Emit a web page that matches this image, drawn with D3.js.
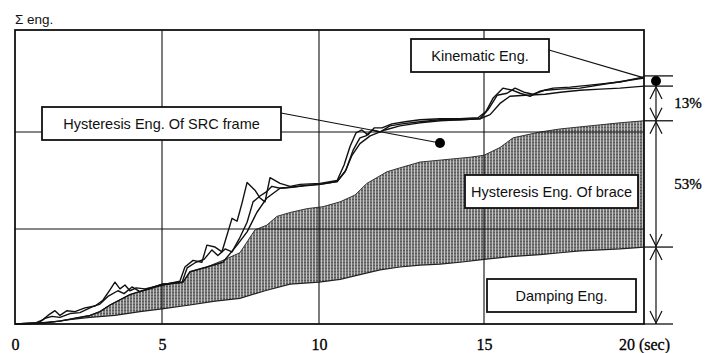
<!DOCTYPE html>
<html><head><meta charset="utf-8">
<script src="https://cdn.jsdelivr.net/npm/d3@7/dist/d3.min.js"></script>
<style>body{margin:0;background:#fff}</style>
</head><body><svg id="c" width="715" height="353"></svg>
<script>
// ---- data (time in sec, energy in arbitrary units) ----
const xTicks=[0,5,10,15,20];
const xTickLabels=["0","5","10","15","20 (sec)"];
const yGrid=[0,100,200,300];
const damping=[[0,0],[0.51,0],[1.02,1],[1.70,4],[2.55,7],[3.40,9],[4.25,13],[5.00,16],[5.89,20],[6.69,24],[7.48,27],[8.28,35],[9.08,42],[10,44],[10.64,47],[11.24,52],[11.85,57],[12.45,60],[13.06,62],[13.67,63],[14.27,65],[15,68],[15.81,71],[16.75,73],[17.38,75],[18,77],[18.63,78],[19.25,79],[20,81]];
const braceTop=[[0,0],[0.85,1],[1.53,3],[2.04,6],[2.55,9],[2.89,13],[3.23,20],[3.91,31],[4.42,36],[5,42],[5.67,44],[5.89,55],[6.43,60],[6.94,67],[7.48,75],[7.74,88],[7.96,99],[8.34,104],[8.66,113],[9.08,117],[9.62,121],[10.12,123],[10.64,128],[11.09,135],[11.45,147],[12.06,159],[12.45,163],[13.06,169],[13.67,171],[14.58,174],[15,176],[15.5,184],[15.91,194],[16.75,200],[17.38,203],[18,205],[18.63,207],[19.25,209],[20,211]];
const frameTop=[[0,0],[0.85,1],[1.53,3],[2.04,6],[2.55,9],[2.89,13],[3.23,20],[3.91,31],[4.42,36],[5,42],[5.67,44],[5.89,55],[6.43,60],[6.94,65],[7.39,83],[7.71,97],[8.02,117],[8.34,132],[8.76,142],[9.40,144],[10.03,146],[10.55,149],[10.79,159],[11,176],[11.24,188],[11.55,196],[12,202],[12.45,206],[13.06,209],[13.67,211],[14.27,212],[14.88,213],[15.19,217],[15.5,228],[15.81,235],[16.28,236],[16.91,237],[17.38,239],[18,241],[18.63,242],[19.25,243],[20,245]];
const totalA=[[0,0],[0.68,1],[0.92,4],[1.12,9],[1.36,14],[1.53,9],[1.77,14],[2.04,13],[2.38,17],[2.72,19],[2.99,25],[3.23,36],[3.40,44],[3.57,37],[3.74,41],[3.91,35],[4.12,38],[4.42,37],[5,41],[5.57,45],[5.73,60],[5.99,67],[6.27,65],[6.43,83],[6.69,81],[6.91,76],[7.23,111],[7.39,108],[7.55,127],[7.71,148],[7.96,140],[8.12,132],[8.28,128],[8.44,153],[8.76,147],[9.08,144],[9.40,146],[10.03,147],[10.55,150],[10.76,166],[10.94,185],[11.12,199],[11.30,202],[11.48,197],[11.67,204],[11.91,204],[12.21,208],[12.61,210],[13.06,212],[13.67,213],[14.27,213],[14.82,214],[15.06,220],[15.28,233],[15.59,243],[15.88,241],[16.13,238],[16.44,235],[16.75,240],[17.16,243],[17.69,244],[18.31,246],[19.25,249],[20,254]];
const totalB=[[0,0],[0.78,1],[1.02,6],[1.26,8],[1.53,7],[1.87,11],[2.21,12],[2.62,18],[2.89,21],[3.16,29],[3.50,35],[3.71,32],[3.98,39],[4.25,34],[4.59,37],[5,41],[5.64,44],[5.80,59],[6.08,65],[6.34,68],[6.59,78],[6.78,72],[7.01,79],[7.23,76],[7.48,91],[7.71,107],[7.90,128],[8.12,134],[8.31,138],[8.50,144],[8.76,142],[9.14,143],[9.55,145],[10.03,146],[10.55,149],[10.82,161],[11.03,181],[11.24,194],[11.42,196],[11.61,202],[11.85,200],[12.15,206],[12.51,208],[13.06,210],[13.67,212],[14.27,212],[14.88,213],[15.13,222],[15.41,236],[15.72,238],[15.97,243],[16.25,239],[16.53,237],[16.91,241],[17.38,242],[18,243],[18.78,247],[20,253]];
const levels=[255,245,211,81,0];
const shares=[{text:"13%",from:245,to:211},{text:"53%",from:211,to:81},{text:"",from:81,to:0}];
const labels=["Σ eng.","Kinematic Eng.","Hysteresis Eng. Of SRC frame","Hysteresis Eng. Of brace","Damping Eng."];

// ---- drawing ----
const svg=d3.select("#c");
const x=d3.scaleLinear().domain(xTicks).range([15,162,319,484,644]);
const y=d3.scaleLinear().domain(yGrid).range([324,229,132,30]);
const defs=svg.append("defs");
const pat=defs.append("pattern").attr("id","dots").attr("width",3).attr("height",3).attr("patternUnits","userSpaceOnUse");
pat.append("rect").attr("width",3).attr("height",3).attr("fill","#7c7c7c");
pat.append("rect").attr("x",0).attr("width",1).attr("height",3).attr("fill","#c4c4c4");
pat.append("rect").attr("x",1).attr("y",1).attr("width",2).attr("height",1).attr("fill","#585858");

const line=d3.line().x(d=>x(d[0])).y(d=>y(d[1]));
// shaded brace band
svg.append("path").attr("d",line(braceTop.concat(damping.slice().reverse()))+"Z")
  .attr("fill","url(#dots)").attr("stroke","none");
svg.append("path").attr("d",line(damping)).attr("fill","none").attr("stroke","#222").attr("stroke-width",1.2);
svg.append("path").attr("d",line(braceTop)).attr("fill","none").attr("stroke","#333").attr("stroke-width",1);

// grid
const g=svg.append("g").attr("stroke","#111").attr("stroke-width",1.1);
xTicks.slice(1,-1).forEach(t=>g.append("line").attr("x1",x(t)).attr("x2",x(t)).attr("y1",y(300)).attr("y2",y(0)));
yGrid.slice(1,-1).forEach(v=>g.append("line").attr("x1",x(0)).attr("x2",x(20)).attr("y1",y(v)).attr("y2",y(v)));

// curves
[frameTop,totalB,totalA].forEach(s=>svg.append("path").attr("d",line(s)).attr("fill","none")
  .attr("stroke","#111").attr("stroke-width",1.4).attr("stroke-linejoin","round"));

// frame
svg.append("rect").attr("x",x(0)).attr("y",y(300)).attr("width",x(20)-x(0)).attr("height",y(0)-y(300))
  .attr("fill","none").attr("stroke","#111").attr("stroke-width",1.8);

// x axis labels
const ax=svg.append("g").attr("transform",`translate(0,${y(0)})`)
  .call(d3.axisBottom(x).tickValues(xTicks).tickSize(0).tickPadding(15).tickFormat((d,i)=>xTickLabels[i]));
ax.select(".domain").remove();
ax.selectAll("text").attr("font-family","'Liberation Serif',serif").attr("font-size",16).attr("fill","#000")
  .attr("stroke","#000").attr("stroke-width",0.3);

// y title
svg.append("text").attr("x",15).attr("y",24).attr("font-family","'Liberation Sans',Arial,sans-serif")
  .attr("font-size",13.5).attr("fill","#111").text(labels[0]);

// right annotations
const ex=x(20), ax2=ex+12, lx=ex+29;
levels.forEach(v=>svg.append("line").attr("x1",ex).attr("x2",lx).attr("y1",y(v)).attr("y2",y(v)).attr("stroke","#111").attr("stroke-width",1.3));
shares.forEach(s=>{
  const y1=y(s.from), y2=y(s.to);
  svg.append("line").attr("x1",ax2).attr("x2",ax2).attr("y1",y1).attr("y2",y2).attr("stroke","#111").attr("stroke-width",1.2);
  svg.append("path").attr("d",`M${ax2-6},${y1+13}L${ax2},${y1+1}L${ax2+6},${y1+13}`).attr("fill","none").attr("stroke","#111").attr("stroke-width",1.2);
  svg.append("path").attr("d",`M${ax2-6},${y2-13}L${ax2},${y2-1}L${ax2+6},${y2-13}`).attr("fill","none").attr("stroke","#111").attr("stroke-width",1.2);
  if(s.text) svg.append("text").attr("x",ex+44).attr("y",(y1+y2)/2+5).attr("text-anchor","middle")
    .attr("font-family","'Liberation Serif',serif").attr("font-size",15).attr("fill","#000")
    .attr("stroke","#000").attr("stroke-width",0.3).text(s.text);
});
svg.append("circle").attr("cx",ax2).attr("cy",y(250)).attr("r",5).attr("fill","#000");

// leaders and dot
svg.append("line").attr("x1",549).attr("y1",50).attr("x2",ex).attr("y2",y(253)).attr("stroke","#111").attr("stroke-width",1.2);
svg.append("line").attr("x1",281).attr("y1",113).attr("x2",440).attr("y2",143).attr("stroke","#111").attr("stroke-width",1.2);
svg.append("circle").attr("cx",440).attr("cy",143).attr("r",5).attr("fill","#000");

// boxes
const boxPos=[[411,39,138,33],[42,107,239,33],[465,175,173,33],[487,279,149,33]];
labels.slice(1).forEach((t,i)=>{
  const [bx,by,bw,bh]=boxPos[i];
  svg.append("rect").attr("x",bx).attr("y",by).attr("width",bw).attr("height",bh).attr("fill","#fff").attr("stroke","#111").attr("stroke-width",1.8);
  svg.append("text").attr("x",bx+bw/2).attr("y",by+bh/2+5).attr("text-anchor","middle")
    .attr("font-family","'Liberation Sans',Arial,sans-serif").attr("font-size",14.5).attr("fill","#111").text(t);
});
</script></body></html>
